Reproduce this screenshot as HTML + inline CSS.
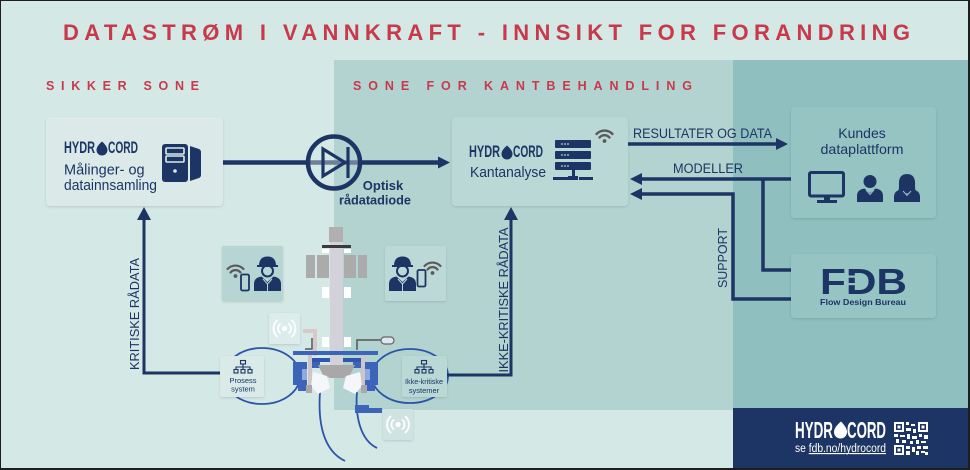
<!DOCTYPE html>
<html><head><meta charset="utf-8">
<style>
html,body{margin:0;padding:0;}
body{width:970px;height:470px;overflow:hidden;background:#d4e8e6;}
svg{display:block}
text{font-family:"Liberation Sans",Arial,sans-serif;}
</style></head><body>
<svg width="970" height="470" viewBox="0 0 970 470" xmlns="http://www.w3.org/2000/svg">
<defs>
<filter id="sh" x="-10%" y="-10%" width="120%" height="130%">
<feDropShadow dx="0" dy="1" stdDeviation="1.2" flood-color="#000" flood-opacity="0.13"/>
</filter>
</defs>
<!-- zones -->
<rect width="970" height="470" fill="#d4e8e6"/>
<rect x="334" y="60" width="399" height="350" fill="#b3d3d1"/>
<rect x="733" y="60" width="237" height="350" fill="#8fbfbe"/>
<rect x="733" y="408" width="237" height="62" fill="#1c3564"/>

<!-- title -->
<text x="63" y="40" font-size="22" font-weight="bold" fill="#c8394b" textLength="847" lengthAdjust="spacing">DATASTRØM I VANNKRAFT - INNSIKT FOR FORANDRING</text>
<text x="46" y="90" font-size="12.5" font-weight="bold" fill="#c8394b" textLength="153" lengthAdjust="spacing">SIKKER SONE</text>
<text x="353" y="90" font-size="12.5" font-weight="bold" fill="#c8394b" textLength="339" lengthAdjust="spacing">SONE FOR KANTBEHANDLING</text>

<!-- cables -->
<g fill="none" stroke="#2b54a8" stroke-width="1.8">
<ellipse cx="262" cy="376" rx="38" ry="28"/>
<ellipse cx="410" cy="376" rx="38" ry="27"/>
<path d="M320,392 C318,420 322,450 345,461"/>
<path d="M357,392 C355,415 360,440 377,448"/>
</g>

<!-- turbine -->
<g>
<rect x="329" y="227" width="14" height="15" fill="#b1afaf"/>
<rect x="330" y="242" width="13" height="124" fill="#d3d2da"/>
<rect x="322" y="245" width="29" height="3" fill="#3a3a3a"/>
<rect x="322" y="249" width="7" height="4" fill="#ffffff"/>
<rect x="344" y="249" width="7" height="4" fill="#ffffff"/>
<rect x="306" y="255" width="9" height="23" fill="#acabab"/>
<rect x="317" y="255" width="12" height="23" fill="#acabab"/>
<rect x="344" y="255" width="12" height="23" fill="#acabab"/>
<rect x="358" y="255" width="9" height="23" fill="#acabab"/>
<rect x="322" y="287" width="7" height="11" fill="#ffffff"/>
<rect x="344" y="287" width="7" height="11" fill="#ffffff"/>
<rect x="322" y="337" width="7" height="10" fill="#ffffff"/>
<rect x="344" y="337" width="7" height="10" fill="#ffffff"/>
<!-- pipes -->
<path d="M303,331 H315 V356" fill="none" stroke="#d8c8cc" stroke-width="4"/>
<path d="M305,349 H312 V338" fill="none" stroke="#555" stroke-width="1.5"/>
<path d="M357,350 V340 H381" fill="none" stroke="#555" stroke-width="1.5"/>
<rect x="381" y="337" width="13" height="7" rx="3.5" fill="#dfe6ee" stroke="#666" stroke-width="1.2"/>
<!-- flange -->
<rect x="293" y="351" width="85" height="4" fill="#3c64b8"/>
<rect x="310" y="358" width="20" height="4" fill="#2f56a8"/>
<rect x="343" y="358" width="20" height="4" fill="#2f56a8"/>
<rect x="293" y="362" width="14" height="23" fill="#3c64b8"/>
<rect x="365" y="362" width="13" height="23" fill="#3c64b8"/>
<rect x="302" y="369" width="5" height="11" fill="#8ea9e0"/>
<rect x="365" y="369" width="5" height="11" fill="#8ea9e0"/>
<rect x="308" y="355" width="4" height="30" fill="#cfc4c8"/>
<rect x="361" y="355" width="4" height="30" fill="#cfc4c8"/>
<rect x="312" y="362" width="8" height="6" fill="#3c64b8"/>
<rect x="353" y="362" width="8" height="6" fill="#3c64b8"/>
<polygon points="318,365 355,365 350,375 343,378 330,378 323,375" fill="#a9a7a7"/>
<polygon points="313,372 327,376 330,388 318,394 311,386" fill="#f4f6fa"/>
<polygon points="360,372 346,376 343,388 355,394 362,386" fill="#f4f6fa"/>
<rect x="298" y="383" width="8" height="8" fill="#3c64b8"/>
<rect x="367" y="383" width="8" height="8" fill="#3c64b8"/>
<rect x="306" y="385" width="6" height="8" fill="#a9a7a7"/>
<rect x="361" y="385" width="6" height="8" fill="#a9a7a7"/>
<polygon points="355,405 369,405 369,408 382,408 382,413 355,413" fill="#3c64b8"/>
</g>

<!-- connectors -->
<g stroke="#1c3564" fill="none">
<line x1="223" y1="162.5" x2="309" y2="162.5" stroke-width="4.5"/>
<line x1="309" y1="162.5" x2="359" y2="162.5" stroke-width="4.5" stroke="#6e7f99"/>
<line x1="359" y1="162.5" x2="440" y2="162.5" stroke-width="4.5"/>
<circle cx="334" cy="162.5" r="26" stroke-width="4.5"/>
<polygon points="323,149 345,162.5 323,176" stroke-width="3.2"/>
<line x1="348" y1="147" x2="348" y2="178" stroke-width="3.2"/>
<line x1="628" y1="144" x2="778" y2="144" stroke-width="3.5"/>
<line x1="640" y1="179" x2="791" y2="179" stroke-width="3.5"/>
<path d="M640,194 H733 V299 H792" stroke-width="3.5"/>
<path d="M763,179 V270 H792" stroke-width="3.5"/>
<path d="M220,373 H144 V218" stroke-width="3"/>
<path d="M447,375 H511 V218" stroke-width="3"/>
</g>
<g fill="#1c3564">
<polygon points="438,156.5 450,162.5 438,168.5"/>
<polygon points="776,138 788,144 776,150"/>
<polygon points="642,173 630,179 642,185"/>
<polygon points="642,188 630,194 642,200"/>
<polygon points="137,220 151,220 144,207"/>
<polygon points="504,220 518,220 511,207"/>
</g>

<!-- connector labels -->
<g fill="#1c3564">
<text x="383" y="190" font-size="13" font-weight="bold" text-anchor="middle">Optisk</text>
<text x="375" y="204.5" font-size="13" font-weight="bold" text-anchor="middle" textLength="72" lengthAdjust="spacingAndGlyphs">rådatadiode</text>
<text x="633" y="138" font-size="13.5" textLength="139" lengthAdjust="spacingAndGlyphs">RESULTATER OG DATA</text>
<text x="673" y="173" font-size="13.5" textLength="70" lengthAdjust="spacingAndGlyphs">MODELLER</text>
<text transform="translate(727,258) rotate(-90)" font-size="13" text-anchor="middle" textLength="60" lengthAdjust="spacingAndGlyphs">SUPPORT</text>
<text transform="translate(139,314) rotate(-90)" font-size="13" text-anchor="middle" textLength="112" lengthAdjust="spacingAndGlyphs">KRITISKE RÅDATA</text>
<text transform="translate(508,300) rotate(-90)" font-size="13" text-anchor="middle" textLength="145" lengthAdjust="spacingAndGlyphs">IKKE-KRITISKE RÅDATA</text>
</g>

<!-- main boxes -->
<rect x="46" y="117" width="177" height="89" rx="4" fill="#dbeae9" filter="url(#sh)"/>
<rect x="452" y="117" width="176" height="89" rx="4" fill="#bad8d6" filter="url(#sh)"/>
<rect x="791" y="107" width="145" height="111" rx="4" fill="#96c4c3" filter="url(#sh)"/>
<rect x="791" y="254" width="145" height="64" rx="4" fill="#96c4c3" filter="url(#sh)"/>

<!-- left box content -->
<g fill="#1c3564">
<text x="64" y="153" font-size="16.5" font-weight="bold" textLength="31" lengthAdjust="spacingAndGlyphs">HYDR</text>
<path d="M102,141.5 C106,145 107.5,148 107.5,150 A5.5,5.5 0 0 1 96.5,150 C96.5,147 99,144 102,141.5 Z"/>
<text x="108" y="153" font-size="16.5" font-weight="bold" textLength="30" lengthAdjust="spacingAndGlyphs">CORD</text>
<text x="64" y="174.5" font-size="14.5">Målinger- og</text>
<text x="64" y="190" font-size="14.5" textLength="93" lengthAdjust="spacingAndGlyphs">datainnsamling</text>
<rect x="162" y="144" width="26" height="38" rx="3"/>
<path d="M190,146 L199,149 Q201,150 201,152 L201,175 Q201,177 199,178 L190,181 Z"/>
</g>
<g fill="none" stroke="#dbeae9" stroke-width="1.6">
<rect x="166" y="148" width="18" height="6" rx="1"/>
<rect x="166" y="156" width="18" height="6" rx="1"/>
</g>
<circle cx="175" cy="171" r="1.8" fill="#dbeae9"/>

<!-- middle box content -->
<g fill="#1c3564">
<text x="469" y="157" font-size="16.5" font-weight="bold" textLength="31" lengthAdjust="spacingAndGlyphs">HYDR</text>
<path d="M507,145.5 C511,149 512.5,152 512.5,154 A5.5,5.5 0 0 1 501.5,154 C501.5,151 504,148 507,145.5 Z"/>
<text x="513" y="157" font-size="16.5" font-weight="bold" textLength="30" lengthAdjust="spacingAndGlyphs">CORD</text>
<text x="470" y="177" font-size="14.5" textLength="76" lengthAdjust="spacingAndGlyphs">Kantanalyse</text>
<rect x="555" y="140" width="36" height="8" rx="1"/>
<rect x="555" y="151" width="36" height="8" rx="1"/>
<rect x="555" y="162" width="36" height="8" rx="1"/>
<rect x="572" y="169" width="3" height="11"/>
<rect x="553" y="177" width="15" height="3"/>
<rect x="568" y="176" width="10" height="4"/>
<rect x="579" y="177" width="14" height="3"/>
</g>
<g fill="#bad8d6">
<circle cx="562" cy="144" r="0.9"/><circle cx="565" cy="144" r="0.9"/><circle cx="568" cy="144" r="0.9"/>
<circle cx="562" cy="155" r="0.9"/><circle cx="565" cy="155" r="0.9"/><circle cx="568" cy="155" r="0.9"/>
<circle cx="562" cy="166" r="0.9"/><circle cx="565" cy="166" r="0.9"/><circle cx="568" cy="166" r="0.9"/>
</g>
<g fill="none" stroke="#5a5a5a" stroke-width="2.4" stroke-linecap="round">
<path d="M596.5,134 A11,11 0 0 1 612.5,134"/>
<path d="M599.5,137.5 A6.5,6.5 0 0 1 609.5,137.5"/>
</g>
<circle cx="604.5" cy="141" r="1.9" fill="#5a5a5a"/>

<!-- Kundes -->
<g fill="#1c3564">
<text x="862" y="138" font-size="14" text-anchor="middle">Kundes</text>
<text x="862" y="154" font-size="14" text-anchor="middle" textLength="83" lengthAdjust="spacingAndGlyphs">dataplattform</text>
<rect x="824" y="196" width="6" height="5"/>
<rect x="817" y="200" width="20" height="3"/>
<circle cx="870" cy="181.5" r="6.5"/>
<path d="M857,202 V196 Q857,189.5 864.5,188.5 L870,193 L875.5,188.5 Q883,189.5 883,196 V202 Z"/>
<path d="M899,186 Q898,174 907,174 Q916,174 915,186 Q915,191 917,193 L897,193 Q899,191 899,186 Z"/>
<path d="M894,202 V197 Q894,190.5 901.5,189.5 L907,194 L912.5,189.5 Q920,190.5 920,197 V202 Z"/>
</g>
<rect x="809.5" y="172.5" width="34" height="23.5" rx="1.5" fill="none" stroke="#1c3564" stroke-width="3"/>
<path d="M866,190 L870,194.5 L874,190" fill="none" stroke="#96c4c3" stroke-width="1"/>
<path d="M903,191 L907,195.5 L911,191" fill="none" stroke="#96c4c3" stroke-width="1"/>

<!-- FDB -->
<text x="820" y="294" font-size="36" font-weight="bold" fill="#1c3564" textLength="87" lengthAdjust="spacingAndGlyphs">FDB</text>
<rect x="848" y="275.5" width="15" height="2.2" fill="#96c4c3"/>
<rect x="848" y="283" width="15" height="2.2" fill="#96c4c3"/>
<text x="863" y="305" font-size="8.5" font-weight="bold" fill="#1c3564" text-anchor="middle" textLength="86" lengthAdjust="spacingAndGlyphs">Flow Design Bureau</text>

<!-- worker boxes -->
<rect x="222" y="246" width="61" height="55" rx="2" fill="#b6d5d3" filter="url(#sh)"/>
<rect x="385" y="246" width="61" height="55" rx="2" fill="#bcd9d7" filter="url(#sh)"/>
<g>
<g fill="none" stroke="#5a5a5a" stroke-width="2.2" stroke-linecap="round">
<path d="M227.5,269 A11,11 0 0 1 243.5,269"/>
<path d="M230.5,272.5 A6.5,6.5 0 0 1 240.5,272.5"/>
</g>
<circle cx="235.5" cy="276" r="1.9" fill="#5a5a5a"/>
<rect x="241" y="274.5" width="8" height="16" rx="1.5" fill="none" stroke="#1c3564" stroke-width="1.8"/>
<g fill="#1c3564">
<path d="M259,266 Q259,256.5 267.5,256.5 Q276,256.5 276,266 Z"/>
<rect x="257" y="265" width="21" height="2"/>
<path d="M254,291 V284 Q254,277.5 261.5,276.5 L267.5,282 L273.5,276.5 Q281,277.5 281,284 V291 Z"/>
</g>
<ellipse cx="267.5" cy="271" rx="5.5" ry="5.5" fill="none" stroke="#1c3564" stroke-width="2"/>
<path d="M263,279 L267.5,284 L272,279 M267.5,284 V291" fill="none" stroke="#b6d5d3" stroke-width="1"/>
</g>
<g>
<g fill="none" stroke="#5a5a5a" stroke-width="2.2" stroke-linecap="round">
<path d="M424.5,266 A11,11 0 0 1 440.5,266"/>
<path d="M427.5,269.5 A6.5,6.5 0 0 1 437.5,269.5"/>
</g>
<circle cx="432.5" cy="273" r="1.9" fill="#5a5a5a"/>
<rect x="417.5" y="270" width="8" height="16.5" rx="1.5" fill="none" stroke="#1c3564" stroke-width="1.8"/>
<g fill="#1c3564">
<path d="M394,266 Q394,256.5 402.5,256.5 Q411,256.5 411,266 Z"/>
<rect x="392" y="265" width="21" height="2"/>
<path d="M389,291 V284 Q389,277.5 396.5,276.5 L402.5,282 L408.5,276.5 Q416,277.5 416,284 V291 Z"/>
</g>
<ellipse cx="402.5" cy="271" rx="5.5" ry="5.5" fill="none" stroke="#1c3564" stroke-width="2"/>
<path d="M398,279 L402.5,284 L407,279 M402.5,284 V291" fill="none" stroke="#bcd9d7" stroke-width="1"/>
</g>

<!-- sensor boxes -->
<rect x="269" y="313" width="31" height="31" rx="2" fill="#dcecea" filter="url(#sh)"/>
<rect x="383" y="409" width="30" height="31" rx="2" fill="#cfe4e2" filter="url(#sh)"/>
<g fill="none" stroke="#ffffff" stroke-width="1.8" stroke-linecap="round">
<path d="M280,324 A6,6 0 0 0 280,333 M289,324 A6,6 0 0 1 289,333"/>
<path d="M277,320.5 A11,11 0 0 0 277,336.5 M292,320.5 A11,11 0 0 1 292,336.5"/>
<path d="M393.5,420 A6,6 0 0 0 393.5,429 M402.5,420 A6,6 0 0 1 402.5,429"/>
<path d="M390.5,416.5 A11,11 0 0 0 390.5,432.5 M405.5,416.5 A11,11 0 0 1 405.5,432.5"/>
</g>
<circle cx="284.5" cy="328.5" r="2.6" fill="#fff"/>
<circle cx="398" cy="424.5" r="2.6" fill="#fff"/>

<!-- small system boxes -->
<rect x="220" y="356" width="44" height="41" rx="2" fill="#d9eae8" filter="url(#sh)"/>
<rect x="402" y="356" width="45" height="41" rx="2" fill="#bad8d6" filter="url(#sh)"/>
<g fill="none" stroke="#1c3564" stroke-width="1.1">
<rect x="240.5" y="360.5" width="5" height="3.5"/>
<path d="M243,364 V367 M236,369.5 V367 H250 V369.5 M243,367 V369.5"/>
<rect x="234" y="369.5" width="4" height="3.5"/>
<rect x="241" y="369.5" width="4" height="3.5"/>
<rect x="248" y="369.5" width="4" height="3.5"/>
<rect x="421.5" y="360.5" width="5" height="3.5"/>
<path d="M424,364 V367 M417,369.5 V367 H431 V369.5 M424,367 V369.5"/>
<rect x="415" y="369.5" width="4" height="3.5"/>
<rect x="422" y="369.5" width="4" height="3.5"/>
<rect x="429" y="369.5" width="4" height="3.5"/>
</g>
<g fill="#1c3564" font-size="7.5" text-anchor="middle">
<text x="243" y="383">Prosess</text>
<text x="243" y="391.5">system</text>
<text x="424" y="384" textLength="38" lengthAdjust="spacingAndGlyphs">Ikke-kritiske</text>
<text x="424" y="393">systemer</text>
</g>

<!-- bottom brand -->
<g fill="#ffffff">
<text x="795" y="438" font-size="23.5" font-weight="bold" textLength="38" lengthAdjust="spacingAndGlyphs">HYDR</text>
<path d="M841,421.5 C845.5,426 847,429.5 847,432 A6.5,6.5 0 0 1 834,432 C834,428 837.5,424.5 841,421.5 Z"/>
<text x="847" y="438" font-size="23.5" font-weight="bold" textLength="39" lengthAdjust="spacingAndGlyphs">CORD</text>
<text x="795" y="452" font-size="11.5" textLength="91" lengthAdjust="spacingAndGlyphs">se <tspan text-decoration="underline">fdb.no/hydrocord</tspan></text>
</g>
<rect x="813" y="453" width="73" height="0.8" fill="#fff"/>
<!-- QR -->
<g fill="#ffffff">
<rect x="894" y="422" width="10" height="10"/>
<rect x="918" y="422" width="10" height="10"/>
<rect x="894" y="445" width="10" height="10"/>
</g>
<g fill="#1c3564">
<rect x="896" y="424" width="6" height="6"/>
<rect x="920" y="424" width="6" height="6"/>
<rect x="896" y="447" width="6" height="6"/>
</g>
<g fill="#ffffff">
<rect x="897.5" y="425.5" width="3" height="3"/>
<rect x="921.5" y="425.5" width="3" height="3"/>
<rect x="897.5" y="448.5" width="3" height="3"/>
<rect x="906" y="422" width="3" height="3"/><rect x="911" y="424" width="4" height="2"/><rect x="906" y="428" width="5" height="3"/>
<rect x="913" y="429" width="3" height="4"/><rect x="894" y="434" width="4" height="3"/><rect x="900" y="435" width="5" height="2"/>
<rect x="907" y="434" width="3" height="5"/><rect x="912" y="436" width="5" height="3"/><rect x="919" y="434" width="3" height="3"/>
<rect x="924" y="435" width="4" height="4"/><rect x="896" y="439" width="3" height="4"/><rect x="902" y="440" width="4" height="3"/>
<rect x="910" y="441" width="3" height="3"/><rect x="916" y="440" width="3" height="4"/><rect x="921" y="441" width="5" height="2"/>
<rect x="906" y="446" width="4" height="3"/><rect x="912" y="447" width="3" height="5"/><rect x="917" y="446" width="4" height="3"/>
<rect x="923" y="446" width="5" height="3"/><rect x="906" y="451" width="4" height="4"/><rect x="916" y="451" width="3" height="4"/>
<rect x="921" y="451" width="4" height="2"/><rect x="925" y="452" width="3" height="3"/>
</g>

<!-- border -->
<rect x="0.5" y="0.5" width="969" height="469" fill="none" stroke="#1e1e1e" stroke-width="1"/>
<rect x="0" y="468" width="970" height="2" fill="#1e1e1e"/>
<rect x="968" y="0" width="2" height="470" fill="#1e1e1e"/>
</svg>
</body></html>
